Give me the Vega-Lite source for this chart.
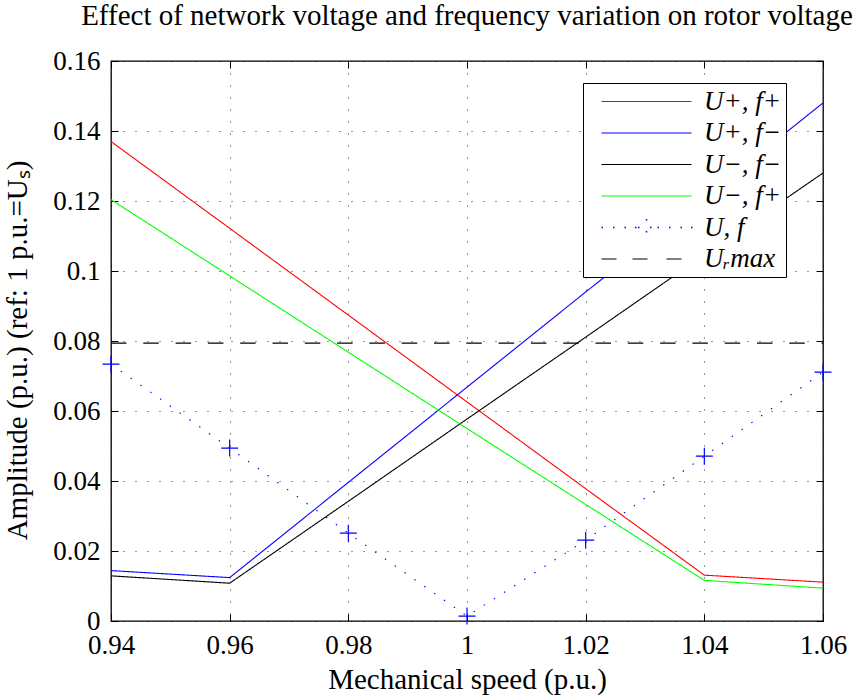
{
  "$schema": "https://vega.github.io/schema/vega-lite/v6.json",
  "width": 712,
  "height": 560,
  "autosize": "none",
  "padding": {"left": 111, "top": 61, "right": 38, "bottom": 77},
  "background": "white",
  "config": {"view": {"stroke": "black", "strokeWidth": 1.3}, "font": "Liberation Serif"},
  "title": {"text": "Effect of network voltage and frequency variation on rotor voltage", "font": "Liberation Serif", "fontSize": 29, "fontWeight": "normal", "color": "black", "anchor": "middle", "baseline": "alphabetic", "offset": -7},
  "data": {"values": [
    {"series": "U+, f+", "speed": 0.94, "amp": 0.137},
    {"series": "U+, f+", "speed": 0.96, "amp": 0.1122},
    {"series": "U+, f+", "speed": 0.98, "amp": 0.0874},
    {"series": "U+, f+", "speed": 1.0, "amp": 0.0626},
    {"series": "U+, f+", "speed": 1.02, "amp": 0.0378},
    {"series": "U+, f+", "speed": 1.04, "amp": 0.0131},
    {"series": "U+, f+", "speed": 1.06, "amp": 0.0111},
    {"series": "U+, f−", "speed": 0.94, "amp": 0.0144},
    {"series": "U+, f−", "speed": 0.96, "amp": 0.0124},
    {"series": "U+, f−", "speed": 0.98, "amp": 0.0396},
    {"series": "U+, f−", "speed": 1.0, "amp": 0.0668},
    {"series": "U+, f−", "speed": 1.02, "amp": 0.094},
    {"series": "U+, f−", "speed": 1.04, "amp": 0.121},
    {"series": "U+, f−", "speed": 1.06, "amp": 0.148},
    {"series": "U−, f−", "speed": 0.94, "amp": 0.0129},
    {"series": "U−, f−", "speed": 0.96, "amp": 0.0108},
    {"series": "U−, f−", "speed": 0.98, "amp": 0.0342},
    {"series": "U−, f−", "speed": 1.0, "amp": 0.0577},
    {"series": "U−, f−", "speed": 1.02, "amp": 0.0811},
    {"series": "U−, f−", "speed": 1.04, "amp": 0.1046},
    {"series": "U−, f−", "speed": 1.06, "amp": 0.128},
    {"series": "U−, f+", "speed": 0.94, "amp": 0.1204},
    {"series": "U−, f+", "speed": 0.96, "amp": 0.0986},
    {"series": "U−, f+", "speed": 0.98, "amp": 0.0768},
    {"series": "U−, f+", "speed": 1.0, "amp": 0.055},
    {"series": "U−, f+", "speed": 1.02, "amp": 0.0333},
    {"series": "U−, f+", "speed": 1.04, "amp": 0.0116},
    {"series": "U−, f+", "speed": 1.06, "amp": 0.0094},
    {"series": "U, f", "speed": 0.94, "amp": 0.0734},
    {"series": "U, f", "speed": 0.96, "amp": 0.0494},
    {"series": "U, f", "speed": 0.98, "amp": 0.0251},
    {"series": "U, f", "speed": 1.0, "amp": 0.0014},
    {"series": "U, f", "speed": 1.02, "amp": 0.0231},
    {"series": "U, f", "speed": 1.04, "amp": 0.0471},
    {"series": "U, f", "speed": 1.06, "amp": 0.0711},
    {"series": "Uᵣmax", "speed": 0.94, "amp": 0.0794},
    {"series": "Uᵣmax", "speed": 1.06, "amp": 0.0794}
  ]},
  "layer": [
    {
      "mark": {"type": "line", "strokeWidth": 1.1},
      "encoding": {
        "x": {"field": "speed", "type": "quantitative", "scale": {"domain": [0.94, 1.06], "nice": false, "zero": false},
          "axis": {"orient": "bottom", "values": [0.94, 0.96, 0.98, 1, 1.02, 1.04, 1.06], "format": "~g", "grid": true, "gridDash": [1, 11], "gridColor": "#000", "gridOpacity": 0.8, "domain": false, "tickSize": -7, "tickColor": "#000", "tickWidth": 1, "labelFont": "Liberation Serif", "labelFontSize": 27, "labelColor": "#000", "labelPadding": 18, "labelFlush": false, "labelOverlap": false,
            "title": "Mechanical speed (p.u.)", "titleFont": "Liberation Serif", "titleFontSize": 29, "titleFontWeight": "normal", "titleColor": "#000", "titleX": 356, "titleY": 67, "titleBaseline": "alphabetic", "titleAlign": "center"}},
        "y": {"field": "amp", "type": "quantitative", "scale": {"domain": [0, 0.16], "nice": false, "zero": false},
          "axis": {"orient": "left", "values": [0, 0.02, 0.04, 0.06, 0.08, 0.1, 0.12, 0.14, 0.16], "format": "~g", "grid": true, "gridDash": [1, 11], "gridColor": "#000", "gridOpacity": 0.8, "domain": false, "tickSize": -7, "tickColor": "#000", "tickWidth": 1, "labelFont": "Liberation Serif", "labelFontSize": 27, "labelColor": "#000", "labelPadding": 18, "labelFlush": false, "labelOverlap": false,
            "title": "Amplitude (p.u.)  (ref: 1 p.u.=Uₛ)", "titleFont": "Liberation Serif", "titleFontSize": 29, "titleFontWeight": "normal", "titleColor": "#000", "titleX": -85, "titleY": 289, "titleBaseline": "alphabetic", "titleAlign": "center", "titleAngle": 270}},
        "color": {"field": "series", "type": "nominal",
          "scale": {"domain": ["U+, f+", "U+, f−", "U−, f−", "U−, f+", "U, f", "Uᵣmax"], "range": ["#ff0000", "#0000ff", "#000000", "#00ff00", "#0000ff", "#000000"]},
          "legend": {"orient": "none", "legendX": 472, "legendY": 22, "title": null, "symbolType": "M-9,0H9", "symbolSize": 100, "symbolStrokeWidth": 1.2, "symbolOffset": 45, "labelOffset": 44, "labelFont": "Liberation Serif", "labelFontStyle": "italic", "labelFontSize": 27, "labelColor": "#000", "rowPadding": 3.5, "padding": 5, "strokeColor": "#000", "fillColor": "white",
            "encode": {
              "legend": {"update": {"width": {"value": 215}}},
              "symbols": {"update": {"fill": {"value": "transparent"}, "strokeWidth": {"signal": "datum.value === 'U, f' ? 1.5 : 1.2"}, "shape": {"signal": "datum.value === 'U, f' ? 'M-9,0h0.3M-6.7,0h0.3M-4.4,0h0.3M-2.3,0h0.3M-1.7,0H1.7M0,-1.7V1.7M2.2,0h0.3M4.5,0h0.3M6.8,0h0.3M8.9,0h0.3' : datum.value === 'Uᵣmax' ? 'M-9,0H-6M-2.8,0H0.2M4,0H7' : 'M-9,0H9'"}}}}}},
        "strokeDash": {"field": "series", "type": "nominal",
          "scale": {"domain": ["U+, f+", "U+, f−", "U−, f−", "U−, f+", "U, f", "Uᵣmax"], "range": [[1, 0], [1, 0], [1, 0], [1, 0], [1.5, 10.5], [15.5, 16.8]]},
          "legend": null}
      }
    },
    {
      "transform": [{"filter": "datum.series === 'U, f'"}],
      "mark": {"type": "point", "shape": "M-1,0H1M0,-1V1", "size": 289, "strokeWidth": 1.2, "color": "#0000ff", "filled": false, "opacity": 1},
      "encoding": {
        "x": {"field": "speed", "type": "quantitative", "axis": {"orient": "top", "values": [0.94, 0.96, 0.98, 1, 1.02, 1.04, 1.06], "grid": false, "domain": false, "labels": false, "title": null, "tickSize": -7, "tickColor": "#000", "tickWidth": 1}},
        "y": {"field": "amp", "type": "quantitative", "axis": {"orient": "right", "values": [0, 0.02, 0.04, 0.06, 0.08, 0.1, 0.12, 0.14, 0.16], "grid": false, "domain": false, "labels": false, "title": null, "tickSize": -7, "tickColor": "#000", "tickWidth": 1}}
      }
    }
  ],
  "resolve": {"axis": {"x": "independent", "y": "independent"}}
}
